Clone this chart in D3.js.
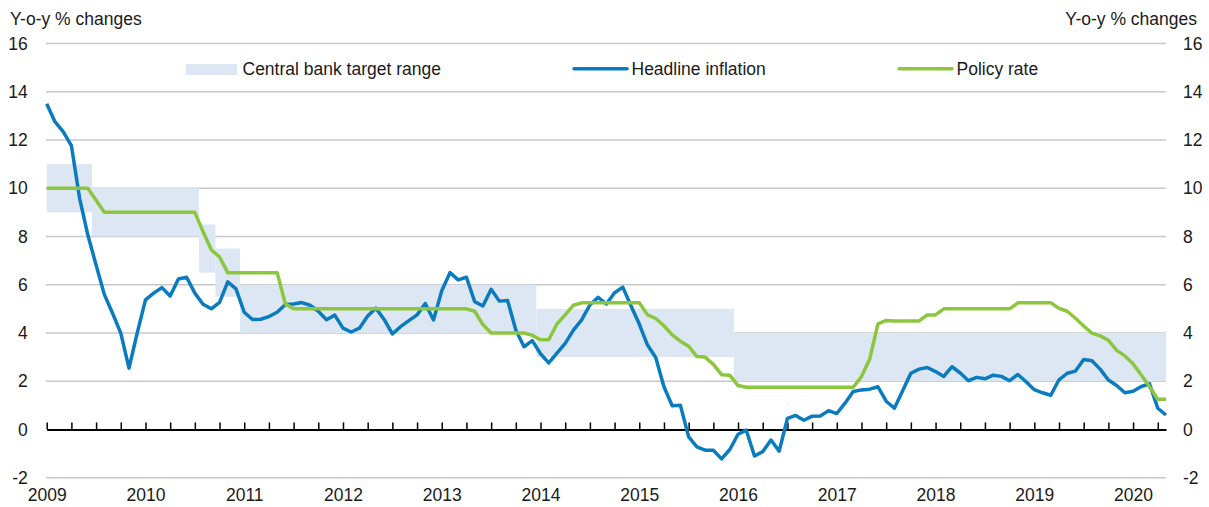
<!DOCTYPE html>
<meta charset="utf-8">
<style>
body { margin: 0; background: #fff; }
svg text { font-family: "Liberation Sans", Arial, sans-serif; font-size: 17.5px; fill: #1a1a1a; }
</style>
<svg id="chart" width="1209" height="507"></svg>
<script src="https://cdn.jsdelivr.net/npm/d3@7"></script>
<script>
// monthly, Jan 2009 .. May 2020
var headline = [
  13.5, 12.76, 12.35, 11.77, 9.58, 8.06, 6.82, 5.6, 4.82, 3.99, 2.54, 4.0,
  5.37, 5.65, 5.88, 5.53, 6.24, 6.31, 5.65, 5.19, 5.0, 5.27, 6.12, 5.83,
  4.86, 4.56, 4.57, 4.68, 4.86, 5.18, 5.2, 5.26, 5.15, 4.9, 4.55, 4.74,
  4.2, 4.04, 4.2, 4.7, 5.03, 4.56, 3.96, 4.26, 4.51, 4.75, 5.22, 4.54,
  5.75, 6.5, 6.2, 6.31, 5.3, 5.12, 5.81, 5.32, 5.35, 4.12, 3.43, 3.68,
  3.14, 2.76, 3.16, 3.57, 4.12, 4.54, 5.16, 5.48, 5.2, 5.67, 5.9, 5.12,
  4.37, 3.5, 2.98, 1.77, 0.98, 1.0, -0.31, -0.72, -0.86, -0.86, -1.22, -0.83,
  -0.2, -0.03, -1.1, -0.92, -0.44, -0.9, 0.46, 0.58, 0.38, 0.55, 0.56, 0.78,
  0.66, 1.09, 1.57, 1.64, 1.67, 1.77, 1.17, 0.88, 1.6, 2.33, 2.5, 2.57,
  2.4, 2.2, 2.6, 2.34, 2.02, 2.16, 2.1, 2.25, 2.2, 2.02, 2.28, 1.98,
  1.65, 1.52, 1.42, 2.06, 2.33, 2.42, 2.9, 2.85, 2.5, 2.05, 1.82, 1.52,
  1.58, 1.78, 1.89, 0.88, 0.6
];

var policyRate = [
  10, 10, 10, 10, 10, 10, 9.5, 9, 9, 9, 9, 9,
  9, 9, 9, 9, 9, 9, 9, 8.2, 7.45, 7.15, 6.5, 6.5,
  6.5, 6.5, 6.5, 6.5, 6.5, 5.2, 5, 5, 5, 5, 5, 5,
  5, 5, 5, 5, 5, 5, 5, 5, 5, 5, 5, 5,
  5, 5, 5, 5, 4.9, 4.35, 4, 4, 4, 4, 4, 3.9,
  3.72, 3.72, 4.37, 4.75, 5.15, 5.25, 5.25, 5.25, 5.25, 5.25, 5.25, 5.25,
  5.25, 4.75, 4.6, 4.3, 3.92, 3.66, 3.45, 3.02, 3.0, 2.7, 2.27, 2.25,
  1.82, 1.75, 1.75, 1.75, 1.75, 1.75, 1.75, 1.75, 1.75, 1.75, 1.75, 1.75,
  1.75, 1.75, 1.75, 2.19, 2.92, 4.38, 4.52, 4.5, 4.5, 4.5, 4.5, 4.75,
  4.75, 5, 5, 5, 5, 5, 5, 5, 5, 5, 5.25, 5.25,
  5.25, 5.25, 5.25, 5.02, 4.9, 4.61, 4.29, 3.99, 3.88, 3.7, 3.28, 3.05,
  2.72, 2.26, 1.77, 1.25, 1.25
];

// central bank target range, each step starts at the month given
var bandStart = ["2009-01", "2009-07", "2010-08", "2010-10", "2011-01", "2014-01", "2016-01"];
var bandLow   = [9, 8, 6.5, 5.5, 4, 3, 2];
var bandHigh  = [11, 10, 8.5, 7.5, 6, 5, 4];

var yTicks = [-2, 0, 2, 4, 6, 8, 10, 12, 14, 16];
var legendLabels = ["Central bank target range", "Headline inflation", "Policy rate"];
var axisTitle = "Y-o-y % changes";

var fmt = d3.timeFormat("%Y-%m");
var months = d3.range(headline.length).map(function(i){ return fmt(new Date(2009, i, 1)); });
if (headline.length != policyRate.length) throw new Error("length mismatch " + headline.length + " " + policyRate.length);

var svg = d3.select("#chart"),
    plotLeft = 46.7, plotRight = 1166,
    plotTop = 43.5, plotBottom = 477.7;

var blue = "#0b7bc0", green = "#8cc63f", band = "#dce7f3";

var x = d3.scalePoint().domain(months).range([plotLeft, plotRight]);
var step = x.step();
var y = d3.scaleLinear().domain([-2, 16]).range([plotBottom, plotTop]);

svg.append("clipPath").attr("id", "plot")
  .append("rect").attr("x", plotLeft).attr("y", plotTop)
  .attr("width", plotRight - plotLeft).attr("height", plotBottom - plotTop);

// gridlines
svg.append("g").selectAll("line")
  .data(yTicks.filter(function(d){ return d != 0; }))
  .enter().append("line")
    .attr("x1", plotLeft - 0.7).attr("x2", plotRight)
    .attr("y1", function(d){ return y(d); }).attr("y2", function(d){ return y(d); })
    .attr("stroke", "#c8c8c8").attr("stroke-width", 1.5);

// target range steps
svg.append("g").attr("clip-path", "url(#plot)").selectAll("rect")
  .data(bandStart)
  .enter().append("rect")
    .attr("x", function(d){ return x(d) - step / 2; })
    .attr("width", function(d, i){
      var end = i < bandStart.length - 1 ? x(bandStart[i + 1]) - step / 2 : plotRight + step;
      return end - (x(d) - step / 2);
    })
    .attr("y", function(d, i){ return y(bandHigh[i]); })
    .attr("height", function(d, i){ return y(bandLow[i]) - y(bandHigh[i]); })
    .attr("fill", band);

// x axis on zero line, ticks every quarter pointing up
var xAxis = d3.axisBottom(x)
  .tickValues(months.filter(function(d, i){ return i % 3 == 0; }))
  .tickSizeInner(-7).tickSizeOuter(0).tickPadding(59)
  .tickFormat(function(d){ return d.slice(5) == "01" ? d.slice(0, 4) : ""; });

var gx = svg.append("g").attr("transform", "translate(0," + y(0) + ")").call(xAxis);
gx.select(".domain").attr("stroke", "#000").attr("stroke-width", 2);
gx.selectAll(".tick line").attr("stroke", "#000").attr("stroke-width", 1.5);
gx.selectAll("text").attr("fill", "#1a1a1a").style("font-size", "17.5px").attr("font-family", null);

// y axes, both sides (plain hyphen for negatives)
var yFmt = function(d){ return String(d); };
var gl = svg.append("g").attr("transform", "translate(" + plotLeft + ",0)")
  .call(d3.axisLeft(y).tickValues(yTicks).tickFormat(yFmt).tickSize(0).tickPadding(19));
var gr = svg.append("g").attr("transform", "translate(" + plotRight + ",0)")
  .call(d3.axisRight(y).tickValues(yTicks).tickFormat(yFmt).tickSize(0).tickPadding(17));
[gl, gr].forEach(function(g){
  g.select(".domain").remove();
  g.selectAll("text").attr("fill", "#1a1a1a").style("font-size", "17.5px").attr("font-family", null);
});

// lines
var line = d3.line()
  .x(function(d, i){ return x(months[i]); })
  .y(function(d){ return y(d); });

svg.append("path").datum(headline)
  .attr("d", line).attr("fill", "none")
  .attr("stroke", blue).attr("stroke-width", 3.5).attr("stroke-linejoin", "round");

svg.append("path").datum(policyRate)
  .attr("d", line).attr("fill", "none")
  .attr("stroke", green).attr("stroke-width", 3.5).attr("stroke-linejoin", "round");

// axis titles
svg.append("text").attr("x", 10).attr("y", 25).text(axisTitle);
svg.append("text").attr("x", 1197).attr("y", 25).attr("text-anchor", "end").text(axisTitle);

// legend
var lg = svg.append("g");
lg.append("rect").attr("x", 186).attr("y", 64).attr("width", 51).attr("height", 11).attr("fill", band);
lg.append("text").attr("x", 242.5).attr("y", 75).text(legendLabels[0]);
lg.append("line").attr("x1", 574).attr("x2", 627).attr("y1", 68.7).attr("y2", 68.7)
  .attr("stroke", blue).attr("stroke-width", 3.5).attr("stroke-linecap", "round");
lg.append("text").attr("x", 631.5).attr("y", 75).text(legendLabels[1]);
lg.append("line").attr("x1", 899).attr("x2", 952).attr("y1", 68.7).attr("y2", 68.7)
  .attr("stroke", green).attr("stroke-width", 3.5).attr("stroke-linecap", "round");
lg.append("text").attr("x", 956.5).attr("y", 75).text(legendLabels[2]);
</script>
